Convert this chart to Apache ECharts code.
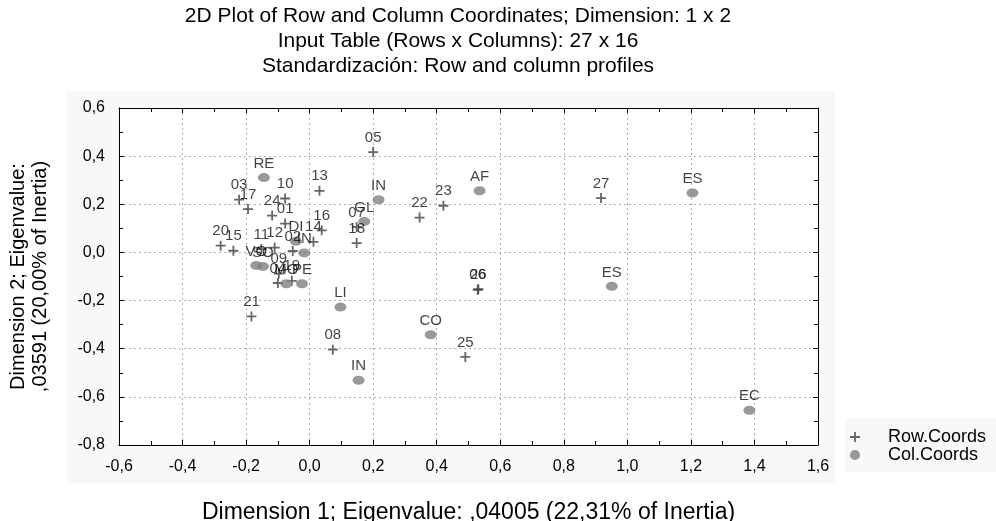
<!DOCTYPE html>
<html><head><meta charset="utf-8">
<script src="https://cdn.jsdelivr.net/npm/echarts@6/dist/echarts.min.js"></script>
<style>html,body{margin:0;padding:0;background:#fff}#c{width:996px;height:521px}</style>
</head><body><div id="c"></div>
<script>
// ---- data ----
const rowLabels = ['01','02','03','04','05','06','07','08','09','10','11','12','13','14','15','16','17','18','19','20','21','22','23','24','25','26','27'];
const rowX = [-0.077,-0.053,-0.222,-0.100,0.200,0.529,0.148,0.073,-0.097,-0.077,-0.152,-0.110,0.031,0.012,-0.240,0.038,-0.194,0.148,-0.056,-0.280,-0.183,0.346,0.421,-0.118,0.490,0.531,0.917];
const rowY = [0.120,0.006,0.219,-0.127,0.417,-0.155,0.106,-0.404,-0.088,0.224,0.014,0.020,0.256,0.044,0.007,0.092,0.180,0.039,-0.118,0.028,-0.266,0.145,0.194,0.153,-0.434,-0.153,0.226];
const colLabels = ['RE','IN','AF','ES','GL','DI','IN','VO','SO','MO','PE','LI','CO','IN','ES','EC'];
const colX = [-0.144,0.217,0.535,1.205,0.172,-0.043,-0.017,-0.168,-0.147,-0.073,-0.024,0.097,0.381,0.154,0.951,1.384];
const colY = [0.311,0.219,0.256,0.247,0.129,0.046,-0.002,-0.054,-0.058,-0.130,-0.130,-0.227,-0.342,-0.531,-0.141,-0.656];
const seriesNames = ['Row.Coords','Col.Coords'];
const titleLines = ['2D Plot of Row and Column Coordinates; Dimension: 1 x 2','Input Table (Rows x Columns): 27 x 16','Standardización: Row and column profiles'];
const xName = 'Dimension 1; Eigenvalue: ,04005 (22,31% of Inertia)';
const yName = 'Dimension 2; Eigenvalue:\n,03591 (20,00% of Inertia)';
const xMin = -0.6, xMax = 1.6, yMin = -0.8, yMax = 0.6, tickStep = 0.2;

// ---- chart ----
const FONT = 'Liberation Sans, Arial, sans-serif';
const cross = 'path://M8.2,0H11.8V8.2H20V11.8H11.8V20H8.2V11.8H0V8.2H8.2Z';
const fmt = v => (Math.abs(v) < 1e-9 ? 0 : v).toFixed(1).replace('.', ',');
function axis(pos, showLabel, min, max) {
  return {
    type: 'value', position: pos, min: min, max: max, interval: tickStep,
    axisLine: { show: true, onZero: false, lineStyle: { color: '#000', width: 1 } },
    axisTick: { show: true, inside: true, length: 5, lineStyle: { color: '#000' } },
    minorTick: { show: true, splitNumber: 2, length: 4, lineStyle: { color: '#000' } },
    axisLabel: { show: showLabel, formatter: fmt, fontSize: 16, color: '#000', margin: 14, fontFamily: FONT },
    splitLine: { show: showLabel, lineStyle: { type: [2, 3], color: '#b0b0b0', width: 1 } },
    minorSplitLine: { show: false }
  };
}
const xa = axis('bottom', true, xMin, xMax);
xa.name = xName; xa.nameLocation = 'middle'; xa.nameGap = 56;
xa.nameTextStyle = { fontSize: 23, color: '#000', fontFamily: FONT };
const ya = axis('left', true, yMin, yMax);
ya.name = yName; ya.nameLocation = 'middle'; ya.nameGap = 68;
ya.nameTextStyle = { fontSize: 20, color: '#000', fontFamily: FONT, lineHeight: 22 };

const labelCfg = { show: true, position: 'top', distance: 2, formatter: '{b}', fontSize: 15, color: '#111', fontFamily: FONT };

const option = {
  animation: false,
  backgroundColor: '#fff',
  title: {
    text: titleLines.join('\n'), left: 453, top: -1, textAlign: 'center',
    textStyle: { fontSize: 21, fontWeight: 'normal', color: '#000', lineHeight: 25, fontFamily: FONT }
  },
  graphic: [
    { type: 'rect', z: -10, silent: true, shape: { x: 67, y: 91, width: 768, height: 392 }, style: { fill: '#f8f8f8' } },
    { type: 'rect', z: -10, silent: true, shape: { x: 845, y: 418, width: 151, height: 54 }, style: { fill: '#f8f8f8' } }
  ],
  grid: { left: 119, top: 108, width: 699, height: 337, show: true, backgroundColor: '#fff', borderWidth: 0, outerBoundsMode: 'none', containLabel: false },
  xAxis: [xa, axis('top', false, xMin, xMax)],
  yAxis: [ya, axis('right', false, yMin, yMax)],
  legend: {
    orient: 'vertical', left: 845, top: 423, itemWidth: 40, itemHeight: 10, itemGap: 0,
    textStyle: { fontSize: 18, color: '#000', fontFamily: FONT, padding: [0, 0, 0, 8] },
    data: [{ name: seriesNames[0], icon: cross }, { name: seriesNames[1], icon: 'circle' }]
  },
  series: [
    {
      name: seriesNames[0], type: 'scatter', symbol: cross, symbolSize: 10,
      itemStyle: { color: '#404040' }, label: labelCfg,
      data: rowX.map((x, i) => ({ name: rowLabels[i], value: [x, rowY[i]] }))
    },
    {
      name: seriesNames[1], type: 'scatter', symbol: 'circle', symbolSize: [12, 9],
      itemStyle: { color: '#808080' }, label: labelCfg,
      data: colX.map((x, i) => ({ name: colLabels[i], value: [x, colY[i]] }))
    }
  ]
};
const chart = echarts.init(document.getElementById('c'), null, { renderer: 'canvas' });
chart.setOption(option);
</script></body></html>
